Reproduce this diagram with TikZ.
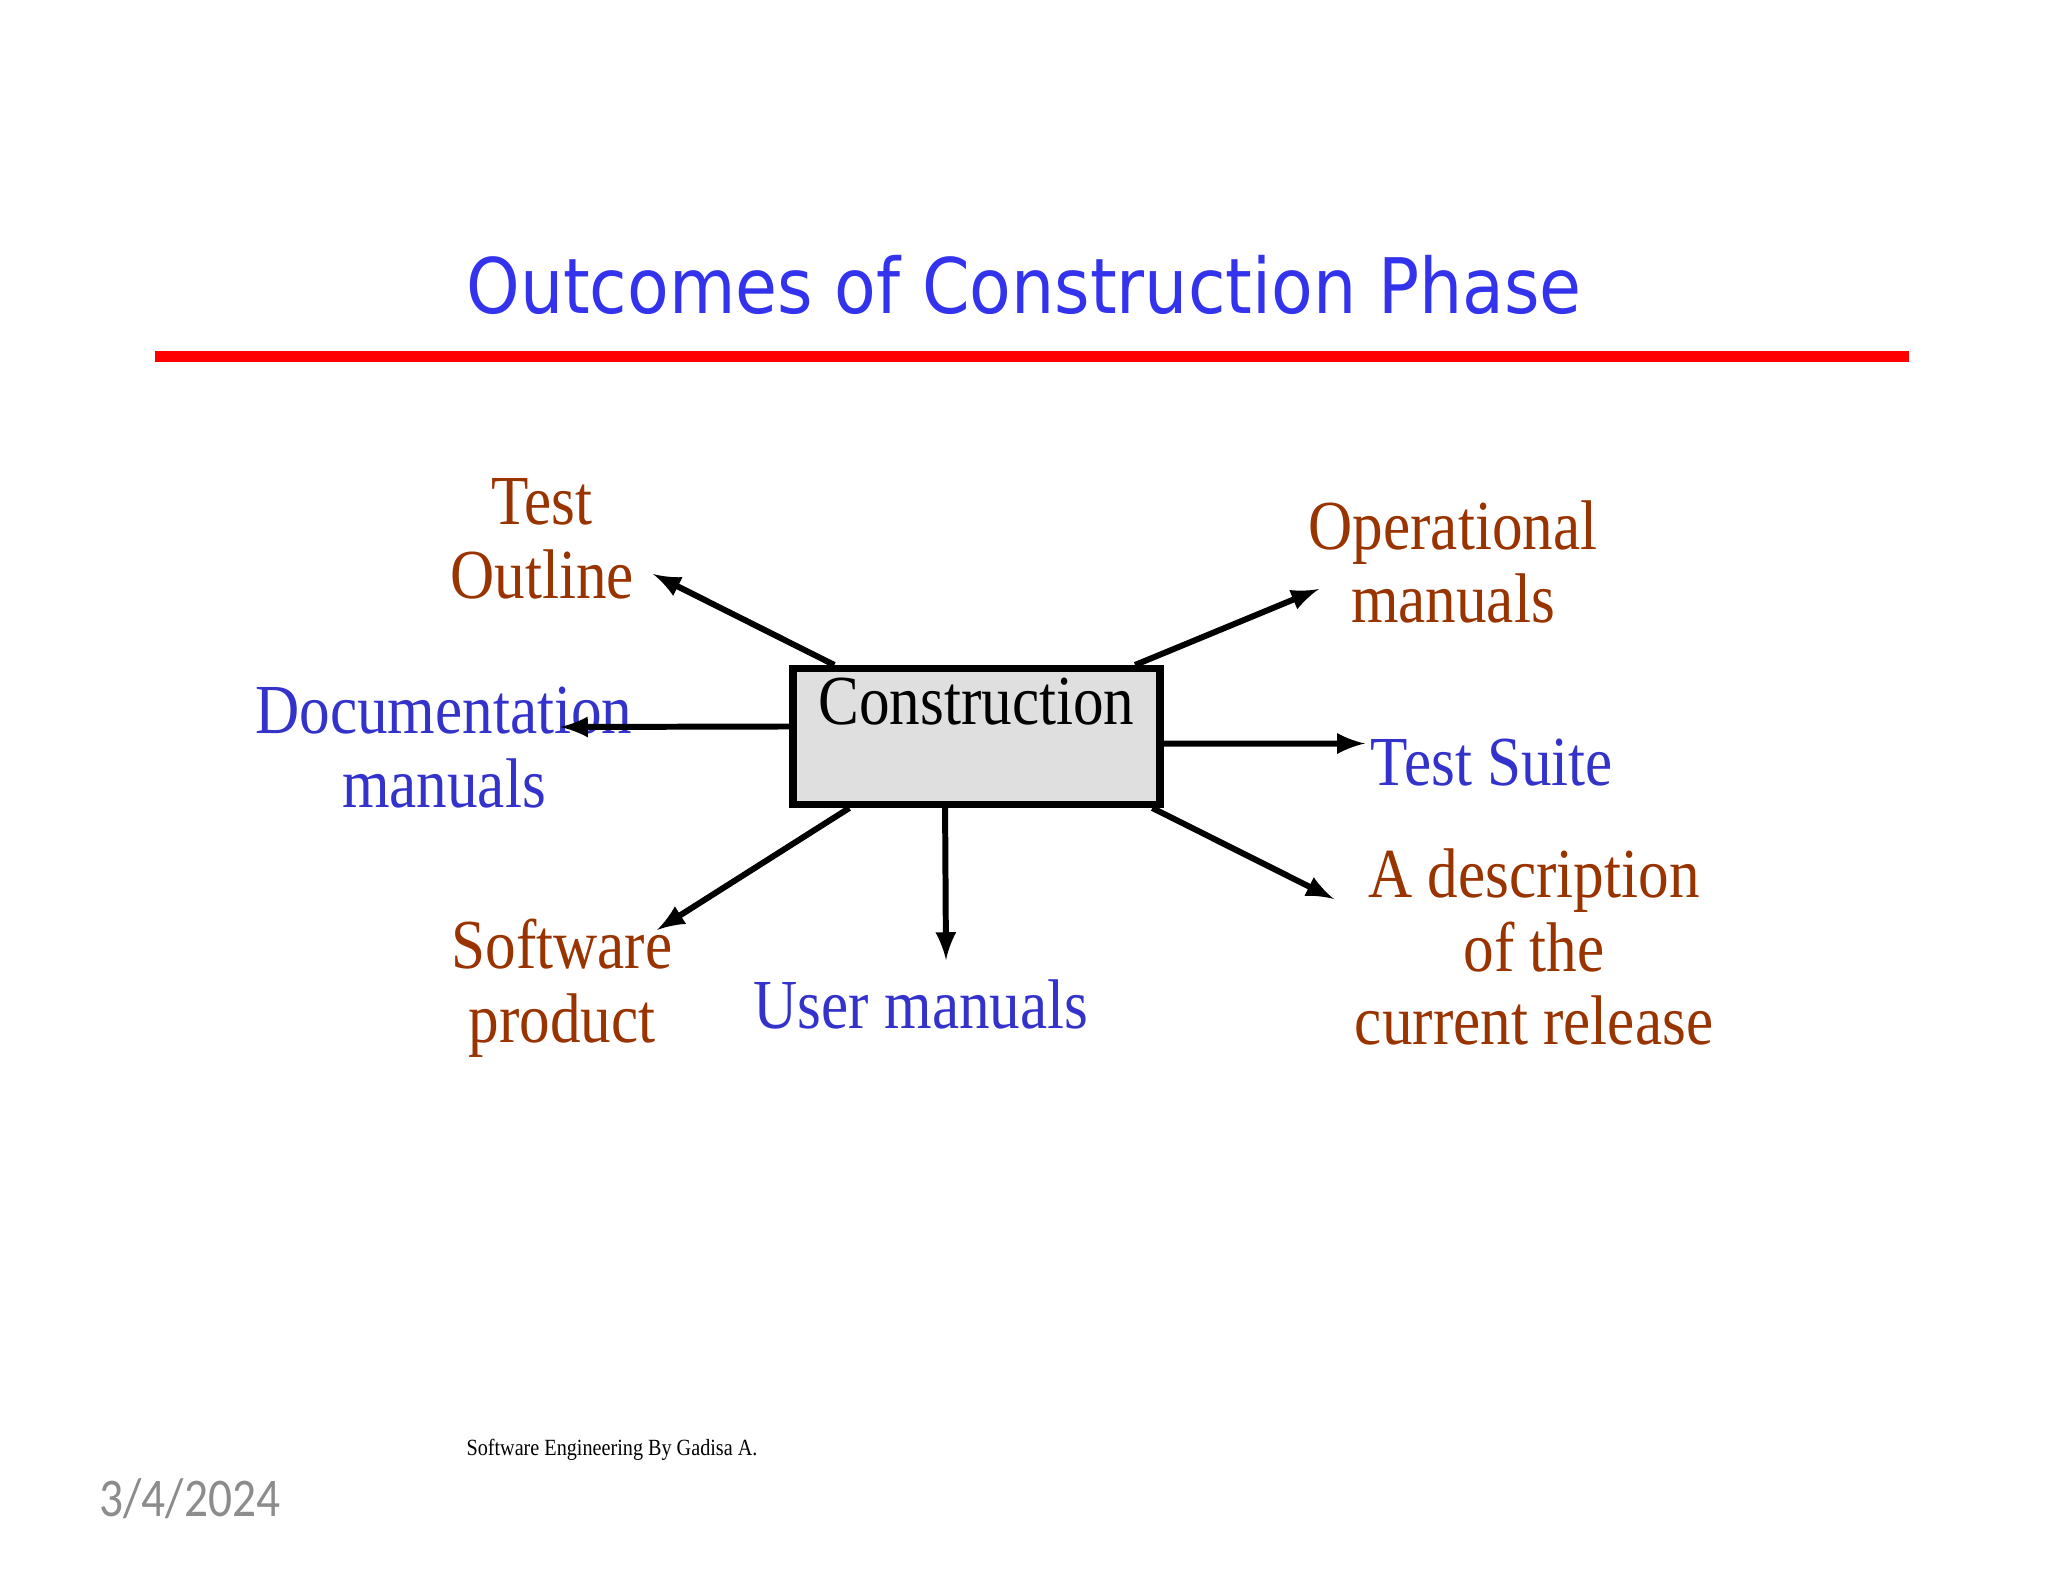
\documentclass[tikz,border=0pt]{standalone}
\usepackage{fontspec}
\usetikzlibrary{calc}
\newfontfamily\titlefont[FakeStretch=0.89]{DejaVu Sans}
\newfontfamily\slidefont[FakeStretch=0.87]{Liberation Serif}
\newfontfamily\datefont[FakeStretch=0.87]{Carlito}
\definecolor{titleblue}{RGB}{51,51,238}
\definecolor{outblue}{RGB}{51,51,204}
\definecolor{outbrown}{RGB}{153,51,0}
\definecolor{dategray}{RGB}{140,140,140}

\begin{document}
\begin{tikzpicture}
    \tikzset{outcome/.style={align=center, inner sep=0pt, font=\slidefont\fontsize{20}{21}\selectfont},
      brownout/.style={outcome, text=outbrown},
      blueout/.style={outcome, text=outblue},
      outarrow/.style={-latex, line width=1.7pt}
    }
    \fill[white] (0,0) rectangle (20.48,-15.82);
    \useasboundingbox (0,0) rectangle (20.48,-15.82);

    \node[font=\titlefont\fontsize{21.8}{26}\selectfont, text=titleblue] (title) at (10.24,-2.85) {Outcomes of Construction Phase};
    \draw[red, line width=0.11cm] (1.55,-3.57) -- (19.09,-3.57);

    \node[draw, line width=2pt, fill=gray!25, inner sep=0pt, minimum width=3.67cm,
      text height=0.56cm, text depth=0.8cm, font=\slidefont\fontsize{20}{21}\selectfont] (constr) at (9.765,-7.365) {Construction};

    \node[brownout] (testout) at (5.42,-5.385) {Test\\Outline};
    \node[brownout] (opman) at (14.53,-5.62) {Operational\\manuals};
    \node[blueout] (docman) at (4.44,-7.475) {Documentation\\manuals};
    \node[blueout] (suite) at (14.92,-7.63) {Test Suite};
    \node[brownout] (descr) at (15.34,-9.47) {A description\\of the\\current release};
    \node[brownout] (soft) at (5.62,-9.88) {Software\\product};
    \node[blueout] (userman) at (9.21,-10.04) {User manuals};

    \coordinate (testtip) at (6.53,-5.74);
    \coordinate (optip) at (13.19,-5.89);
    \coordinate (doctip) at (5.60,-7.27);
    \coordinate (suitetip) at (13.65,-7.435);
    \coordinate (desctip) at (13.34,-8.99);
    \coordinate (softtip) at (6.57,-9.30);
    \coordinate (usertip) at (9.46,-9.60);

    \draw[outarrow] ($(constr.north west)!0.12!(constr.north east)$) -- (testtip);
    \draw[outarrow] ($(constr.north west)!0.924!(constr.north east)$) -- (optip);
    \draw[outarrow] ($(constr.north west)!0.43!(constr.south west)$) -- (doctip);
    \draw[outarrow] ($(constr.north east)!0.55!(constr.south east)$) -- (suitetip);
    \draw[outarrow] ($(constr.south west)!0.97!(constr.south east)$) -- (desctip);
    \draw[outarrow] ($(constr.south west)!0.16!(constr.south east)$) -- (softtip);
    \draw[outarrow] ($(constr.south west)!0.416!(constr.south east)$) -- (usertip);

    \node[font=\slidefont\fontsize{6.6}{8}\selectfont] (footer) at (6.12,-14.50) {Software Engineering By Gadisa A.};
    \node[font=\datefont\fontsize{15.5}{19}\selectfont, text=dategray] (date) at (1.90,-14.99) {3/4/2024};
\end{tikzpicture}
\end{document}
